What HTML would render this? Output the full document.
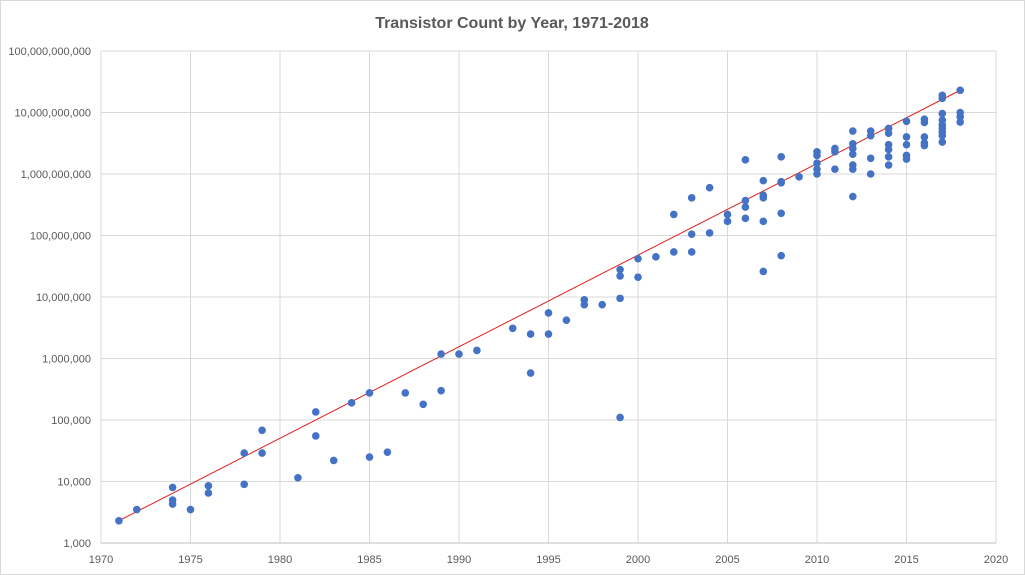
<!DOCTYPE html>
<html><head><meta charset="utf-8"><style>
html,body{margin:0;padding:0;background:#fff;}
svg{display:block;font-family:"Liberation Sans",sans-serif;}
</style></head><body>
<svg id="chart" width="1025" height="575">
<rect x="0.5" y="0.5" width="1024" height="574" fill="#fff" stroke="#d9d9d9"/>
<text x="512" y="28" text-anchor="middle" font-size="16" font-weight="bold" fill="#595959">Transistor Count by Year, 1971-2018</text>
<g id="grid"></g><g id="axes"></g><g id="trend"></g><g id="pts"></g>
</svg>
<script>
const xTicks=[1970,1975,1980,1985,1990,1995,2000,2005,2010,2015,2020];
const yTicks=[1e3,1e4,1e5,1e6,1e7,1e8,1e9,1e10,1e11];
const years=[1971,1972,1974,1974,1974,1975,1976,1976,1978,1978,1979,1979,1981,1982,1982,1983,1984,1985,1985,1986,1987,1988,1989,1989,1990,1991,1993,1994,1994,1995,1995,1996,1997,1997,1998,1999,1999,1999,1999,2000,2000,2001,2002,2002,2003,2003,2003,2004,2004,2005,2005,2006,2006,2006,2006,2007,2007,2007,2007,2007,2008,2008,2008,2008,2008,2009,2010,2010,2010,2010,2010,2011,2011,2011,2012,2012,2012,2012,2012,2012,2012,2013,2013,2013,2013,2014,2014,2014,2014,2014,2014,2015,2015,2015,2015,2015,2016,2016,2016,2016,2016,2017,2017,2017,2017,2017,2017,2017,2017,2017,2018,2018,2018,2018];
const counts=[2300,3500,8000,5000,4300,3500,8500,6500,29000,9000,68000,29000,11500,135000,55000,22000,190000,275000,25000,30000,275000,180000,1180000,300000,1180000,1350000,3100000,2500000,580000,5500000,2500000,4200000,9000000,7500000,7500000,28000000,22000000,9500000,110000,42000000,21000000,45000000,220000000,54000000,410000000,105000000,54000000,600000000,110000000,220000000,170000000,1700000000,370000000,290000000,190000000,780000000,450000000,410000000,170000000,26000000,1900000000,750000000,720000000,230000000,47000000,900000000,2300000000,2000000000,1500000000,1200000000,1000000000,2600000000,2300000000,1200000000,5000000000,3100000000,2600000000,2100000000,1400000000,1200000000,430000000,5000000000,4200000000,1800000000,1000000000,5500000000,4600000000,3000000000,2500000000,1900000000,1400000000,7200000000,4000000000,3000000000,2000000000,1750000000,7800000000,6900000000,4000000000,3200000000,2900000000,19000000000,17000000000,9600000000,7500000000,6300000000,5500000000,4800000000,4200000000,3300000000,23000000000,10000000000,8500000000,7000000000];
const trendYears=[1971,2018];
const trendVals=[2300,23000000000];
const X0=101,X1=996,Y0=543,Y1=51;
const xs=v=>X0+(v-1970)/50*(X1-X0);
const ys=v=>Y0-(Math.log10(v)-3)/8*(Y0-Y1);
const NS="http://www.w3.org/2000/svg";
function mk(t,a,p){const e=document.createElementNS(NS,t);for(const k in a)e.setAttribute(k,a[k]);p.appendChild(e);return e;}
const grid=document.getElementById('grid'),axes=document.getElementById('axes');
xTicks.forEach(t=>{
 const l=mk('line',{x1:xs(t),x2:xs(t),y1:Y1,y2:Y0,stroke:'#d9d9d9','stroke-width':1},grid);
 
 
 const tx=mk('text',{x:xs(t),y:Y0+20,'text-anchor':'middle','font-size':11,fill:'#595959'},axes);
 tx.textContent=t;
 
 
});
yTicks.forEach(t=>{
 const l=mk('line',{x1:X0,x2:X1,y1:ys(t),y2:ys(t),stroke:t===1e3?'#bfbfbf':'#d9d9d9','stroke-width':1},grid);
 
 
 const tx=mk('text',{x:X0-10,y:ys(t)+4,'text-anchor':'end','font-size':11,fill:'#595959'},axes);
 tx.textContent=t.toLocaleString('en-US');
 
 
});
const tl=mk('line',{x1:xs(trendYears[0]),y1:ys(trendVals[0]),x2:xs(trendYears[1]),y2:ys(trendVals[1]),stroke:'#e0201c','stroke-width':1},document.getElementById('trend'));


const pts=document.getElementById('pts');
years.forEach((y,i)=>{
 const c=mk('circle',{cx:xs(y),cy:ys(counts[i]),r:3.8,fill:'#4472c4'},pts);
 
 
});
</script>
</body></html>
